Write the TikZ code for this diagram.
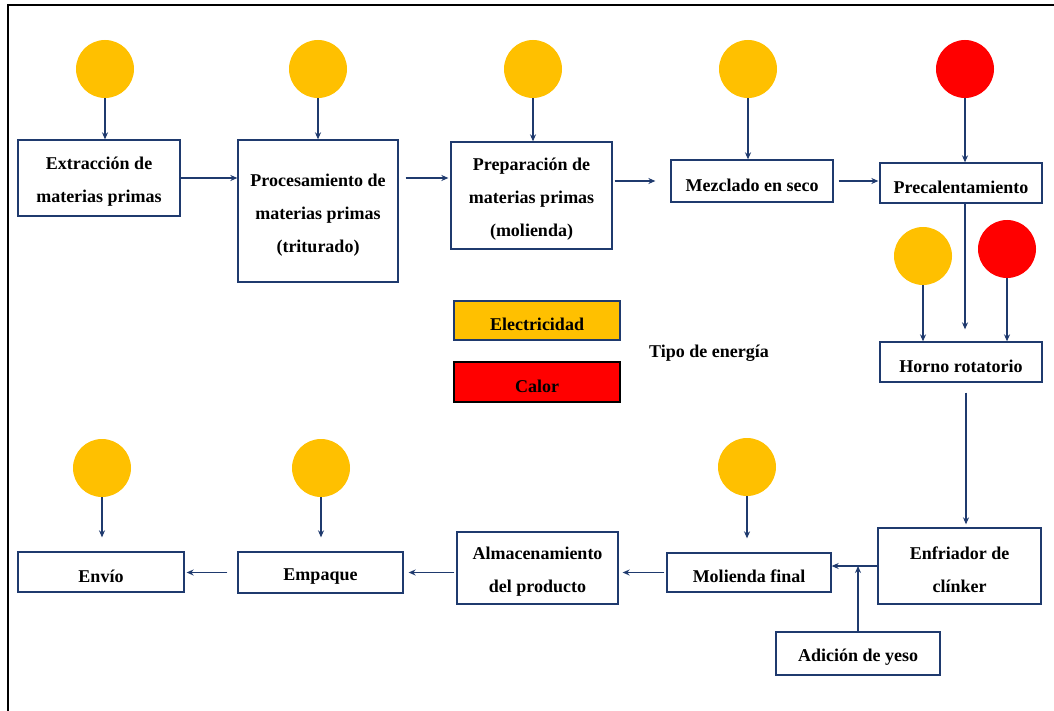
\documentclass[tikz,border=0pt]{standalone}
\usepackage{fontspec}
\setmainfont{Liberation Serif}
\usetikzlibrary{arrows.meta,calc}
\definecolor{navy}{HTML}{1F3A6E}
\definecolor{elec}{HTML}{FFC000}
\definecolor{heat}{HTML}{FF0000}
\begin{document}
\begin{tikzpicture}[x=1pt,y=-1pt,
  every node/.style={font=\fontsize{18}{33}\selectfont\bfseries, text=black},
  box/.style={draw=navy, line width=1.3pt, fill=white, inner sep=0pt},
  lbl/.style={align=center, inner sep=0pt, yshift=-4pt},
  src/.style={circle, minimum size=58pt, inner sep=0pt},
  el/.style={src, fill=elec},
  ht/.style={src, fill=heat},
  arr/.style={draw=navy, line width=1.2pt, -{Stealth[length=7pt,width=6pt]}}]
\useasboundingbox (0,0) rectangle (1054,711);
\draw[line width=1.6pt, black] (8,711) -- (8,5) -- (1054,5);

% process boxes
\node[box, minimum width=162pt, minimum height=76pt, label={[lbl]center:Extracción de\\materias primas}] (ext) at (99,178) {};
\node[box, minimum width=160pt, minimum height=142pt, label={[lbl]center:Procesamiento de\\materias primas\\(triturado)}] (proc) at (318,211) {};
\node[box, minimum width=161pt, minimum height=107pt, label={[lbl]center:Preparación de\\materias primas\\(molienda)}] (prep) at (531.5,195.5) {};
\node[box, minimum width=162pt, minimum height=42pt, label={[lbl]center:Mezclado en seco}] (mez) at (752,181) {};
\node[box, minimum width=162pt, minimum height=40pt, label={[lbl]center:Precalentamiento}] (prec) at (961,183) {};
\node[box, minimum width=162pt, minimum height=40pt, label={[lbl]center:Horno rotatorio}] (horno) at (961,362) {};
\node[box, minimum width=163pt, minimum height=76pt, label={[lbl]center:Enfriador de\\clínker}] (enf) at (959.5,566) {};
\node[box, minimum width=164pt, minimum height=43pt, label={[lbl]center:Adición de yeso}] (adic) at (858,653.5) {};
\node[box, minimum width=164pt, minimum height=39pt, label={[lbl]center:Molienda final}] (mol) at (749,572.5) {};
\node[box, minimum width=161pt, minimum height=72pt, label={[lbl]center:Almacenamiento\\del producto}] (alm) at (537.5,568) {};
\node[box, minimum width=165pt, minimum height=41pt, label={[lbl]center:Empaque}] (emp) at (320.5,572.5) {};
\node[box, minimum width=166pt, minimum height=40pt, label={[lbl]center:Envío}] (env) at (101,572) {};

% energy sources
\node[el] (c1) at (105,69) {};
\node[el] (c2) at (318,69) {};
\node[el] (c3) at (533,69) {};
\node[el] (c4) at (748,69) {};
\node[ht] (c5) at (965,69) {};
\node[el] (c6) at (923,256) {};
\node[ht] (c7) at (1007,249) {};
\node[el] (c8) at (747,467) {};
\node[el] (c9) at (102,468) {};
\node[el] (c10) at (321,468) {};

% legend
\node[draw=navy, line width=1.2pt, fill=elec, minimum width=166pt, minimum height=39pt, inner sep=0pt, label={[lbl]center:Electricidad}] (lel) at (537,320.5) {};
\node[draw=black, line width=1.2pt, fill=heat, minimum width=166pt, minimum height=40pt, inner sep=0pt, label={[lbl]center:Calor}] (lht) at (537,382) {};
\node (tipo) at (709,353) {Tipo de energía};

% main flow
\draw[arr] (ext.east) -- (ext.east -| proc.west);
\draw[arr, shorten <=7pt, shorten >=2pt] (proc.east |- ext.east) -- (prep.west |- ext.east);
\draw[arr, shorten <=2pt, shorten >=15pt] (prep.east |- mez.west) -- (mez.west);
\draw[arr, shorten <=5pt, shorten >=1pt] (mez.east) -- (mez.east -| prec.west);
\draw[arr, shorten >=12pt] ([xshift=4pt]prec.south) -- ([xshift=4pt]horno.north);
\draw[arr, shorten <=10pt, shorten >=3pt] ([xshift=5pt]horno.south) -- ([xshift=5pt]horno.south |- enf.north);
\draw[arr] (enf.west) -- (enf.west -| mol.east);
\draw[arr] (adic.north) -- (adic.north |- enf.west);
\draw[arr, shorten <=2pt, shorten >=4pt] (mol.west) -- (mol.west -| alm.east);
\draw[arr, shorten <=2pt, shorten >=5pt] (alm.west |- emp.east) -- (emp.east);
\draw[arr, shorten <=10pt, shorten >=2pt] (emp.west) -- (emp.west -| env.east);

% energy inputs
\draw[arr] (c1.south) -- (c1.south |- ext.north);
\draw[arr] (c2.south) -- (c2.south |- proc.north);
\draw[arr] (c3.south) -- (c3.south |- prep.north);
\draw[arr] (c4.south) -- (c4.south |- mez.north);
\draw[arr] (c5.south) -- (c5.south |- prec.north);
\draw[arr] (c6.south) -- (c6.south |- horno.north);
\draw[arr] (c7.south) -- (c7.south |- horno.north);
\draw[arr, shorten >=14pt] (c8.south) -- (c8.south |- mol.north);
\draw[arr, shorten >=14pt] (c9.south) -- (c9.south |- env.north);
\draw[arr, shorten >=14pt] (c10.south) -- (c10.south |- emp.north);
\end{tikzpicture}
\end{document}
